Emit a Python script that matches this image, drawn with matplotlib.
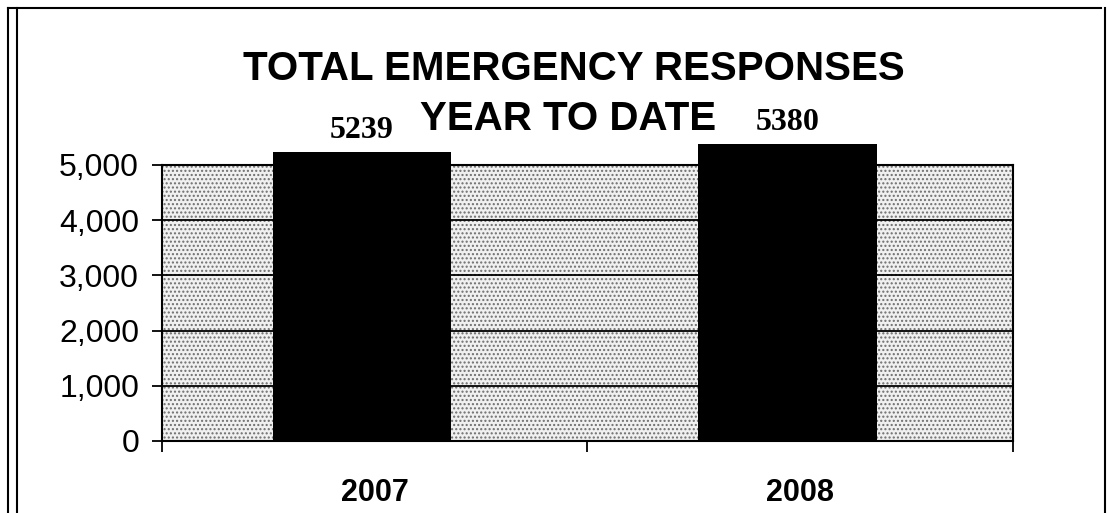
import numpy as np
import matplotlib.pyplot as plt
from matplotlib.patches import Rectangle
from matplotlib.lines import Line2D
from matplotlib.ticker import FuncFormatter

# data
years = ['2007', '2008']
responses = [5239, 5380]
y_ticks = [0, 1000, 2000, 3000, 4000, 5000]

fig = plt.figure(figsize=(11.07, 5.13), dpi=100)
ax = fig.add_axes([0.1463, 0.1404, 0.7688, 0.538])

# speckled plot-area background
ax.set_facecolor('white')
ax.add_patch(Rectangle((0, 0), 1, 1, transform=ax.transAxes, facecolor='#f0f0f0',
                       edgecolor='#6e6e6e', hatch='....', lw=0, zorder=0))

x = np.arange(len(years)) - 0.03
bars = ax.bar(x, responses, width=0.42, color='black', zorder=3, clip_on=False)

for xi, v in zip(x, responses):
    ax.annotate(str(v), xy=(xi, v), xytext=(0, 5), textcoords='offset points',
                ha='center', va='bottom', fontsize=23, fontweight='bold',
                family='Liberation Serif', zorder=4, annotation_clip=False)

ax.set_ylim(0, 5000)
ax.set_xlim(-0.5, 1.5)
ax.set_yticks(y_ticks)
ax.yaxis.set_major_formatter(FuncFormatter(lambda v, p: f'{int(v):,}'))
ax.yaxis.grid(True, color='black', lw=1.3, zorder=2)
ax.set_axisbelow(False)

ax.set_xticks([-0.5, 0.5, 1.5])
ax.set_xticklabels([])
ax.set_xticks([0, 1], minor=True)
ax.set_xticklabels(years, minor=True, fontsize=22, fontweight='bold', family='Liberation Sans')
ax.tick_params(axis='x', which='minor', length=0, pad=27)
ax.tick_params(axis='x', which='major', length=8, width=1.3, color='black')
ax.tick_params(axis='y', length=7.5, width=1.3, labelsize=23, pad=9)
for lbl in ax.get_yticklabels():
    lbl.set_family('Liberation Sans')

for s in ax.spines.values():
    s.set_color('black')
    s.set_linewidth(1.5)

# title
fig.text(0.518, 0.8655, 'TOTAL EMERGENCY RESPONSES', ha='center', va='center',
         fontsize=29, fontweight='bold', family='Liberation Sans')
fig.text(0.513, 0.768, 'YEAR TO DATE', ha='center', va='center',
         fontsize=29, fontweight='bold', family='Liberation Sans', zorder=1)

# outer frame of the scanned page
fig.add_artist(Line2D([0.007, 0.995], [0.985, 0.985], color='black', lw=1.5))
fig.add_artist(Line2D([0.007, 0.007], [0.0, 0.985], color='black', lw=1.5))
fig.add_artist(Line2D([0.0155, 0.0155], [0.0, 0.985], color='black', lw=1.5))
fig.add_artist(Line2D([0.998, 0.998], [0.0, 0.985], color='black', lw=1.5))

fig.savefig('out.png', dpi=100)
